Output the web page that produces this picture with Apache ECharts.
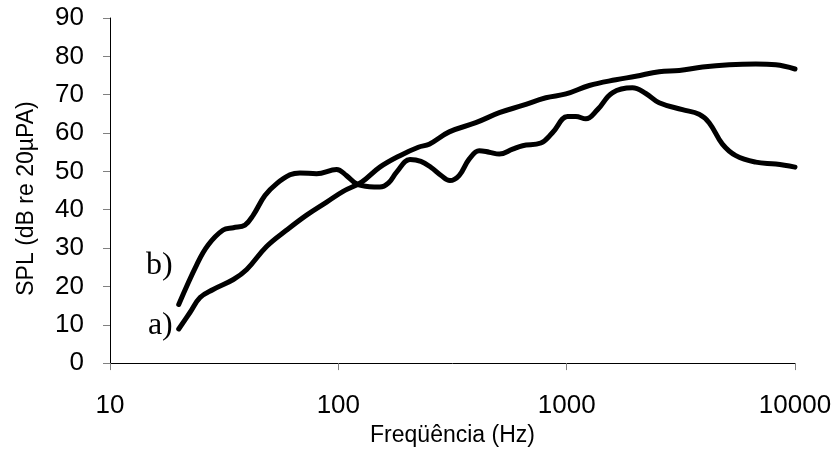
<!DOCTYPE html>
<html>
<head>
<meta charset="utf-8">
<script src="https://cdn.jsdelivr.net/npm/echarts@6/dist/echarts.min.js"></script>
<style>
  html, body { margin: 0; padding: 0; background: #fff; }
  #chart { width: 836px; height: 452px; }
</style>
</head>
<body>
<div id="chart"></div>
<script>
// curve a) - smooth rising response
var freqA = [20, 22.4, 24.8, 28.3, 34.7, 39.7, 48.5, 59.4, 72.6, 88.9, 105, 126.5, 152, 186, 224, 250, 306, 400, 507, 641, 811, 993, 1256, 1642, 2009, 2541, 3112, 3937, 5150, 6733, 8238, 10000];
var levelA = [8.9, 13.2, 17.1, 19.2, 21.8, 24.4, 30.4, 34.7, 38.6, 42, 44.8, 47.2, 51.1, 54.1, 56.3, 57.1, 60.3, 62.7, 65.3, 67.2, 69.2, 70.2, 72.4, 73.9, 74.8, 76, 76.3, 77.2, 77.8, 78, 77.8, 76.7];

// curve b) - wavy response
var freqB = [20, 24, 26.9, 31.3, 34.7, 39, 42.4, 47.7, 53.7, 61.4, 67.9, 80.3, 98.3, 108.6, 120, 137, 152, 166, 180, 206, 230, 255, 281, 308, 338, 374, 414, 458, 507, 580, 641, 771, 867, 1009, 1097, 1213, 1365, 1585, 1940, 2222, 2541, 3214, 3802, 4207, 4810, 5506, 6733, 8238, 10000];
var levelB = [15.3, 25.7, 30.8, 34.7, 35.3, 36, 38.6, 43.7, 46.8, 49.1, 49.6, 49.4, 50.5, 48.9, 46.8, 46, 45.9, 47, 49.8, 53.1, 52.6, 51, 49, 47.6, 48.9, 53.2, 55.4, 55, 54.5, 55.8, 56.7, 57.4, 60.1, 64.3, 64.3, 63.7, 66.1, 70.5, 71.8, 70.3, 67.9, 66.1, 64.9, 62.7, 57.1, 54.1, 52.4, 51.9, 51.1];

var xTicks = [10, 100, 1000, 10000];
var yTicks = [0, 10, 20, 30, 40, 50, 60, 70, 80, 90];

function buildData(freq, level, tag, offsetY) {
    var out = [];
    for (var i = 0; i < freq.length; i++) {
        if (i === 0) {
            out.push({
                value: [freq[i], level[i]],
                label: {
                    show: true,
                    formatter: tag,
                    position: 'left',
                    distance: 6,
                    offset: [0, offsetY],
                    fontFamily: 'Liberation Serif',
                    fontSize: 32,
                    color: '#000'
                }
            });
        } else {
            out.push([freq[i], level[i]]);
        }
    }
    return out;
}

var myChart = echarts.init(document.getElementById('chart'));

var option = {
    backgroundColor: '#fff',
    animation: false,
    grid: {
        left: 110,
        right: 41,
        top: 18,
        bottom: 86
    },
    xAxis: {
        type: 'log',
        logBase: 10,
        min: xTicks[0],
        max: xTicks[xTicks.length - 1],
        name: 'Freqüência (Hz)',
        nameLocation: 'middle',
        nameGap: 60,
        nameTextStyle: { fontFamily: 'Liberation Sans', fontSize: 23, color: '#000' },
        axisLine: { lineStyle: { color: '#000', width: 1 } },
        axisTick: { length: 7, lineStyle: { color: '#808080' } },
        minorTick: { show: false },
        splitLine: { show: false },
        axisLabel: {
            fontFamily: 'Liberation Sans', fontSize: 26, color: '#000', margin: 30,
            formatter: function (v) { return String(Math.round(v)); }
        }
    },
    yAxis: {
        type: 'value',
        min: yTicks[0],
        max: yTicks[yTicks.length - 1],
        interval: 10,
        name: 'SPL (dB re 20µPA)',
        nameLocation: 'middle',
        nameGap: 72,
        nameRotate: 90,
        nameTextStyle: { fontFamily: 'Liberation Sans', fontSize: 23, color: '#000', padding: [0, 16, 0, 0] },
        axisLine: { show: true, lineStyle: { color: '#000', width: 1 } },
        axisTick: { show: true, length: 7, lineStyle: { color: '#808080' } },
        splitLine: { show: false },
        axisLabel: { fontFamily: 'Liberation Sans', fontSize: 26, color: '#000', margin: 26 }
    },
    series: [
        {
            name: 'a)',
            type: 'line',
            smooth: 0.4,
            symbol: 'circle',
            symbolSize: 0,
            showSymbol: true,
            lineStyle: { color: '#000', width: 5, cap: 'round' },
            itemStyle: { color: '#000' },
            data: buildData(freqA, levelA, 'a)', -3)
        },
        {
            name: 'b)',
            type: 'line',
            smooth: 0.4,
            symbol: 'circle',
            symbolSize: 0,
            showSymbol: true,
            lineStyle: { color: '#000', width: 5, cap: 'round' },
            itemStyle: { color: '#000' },
            data: buildData(freqB, levelB, 'b)', -39)
        }
    ]
};
myChart.setOption(option);
</script>
</body>
</html>
